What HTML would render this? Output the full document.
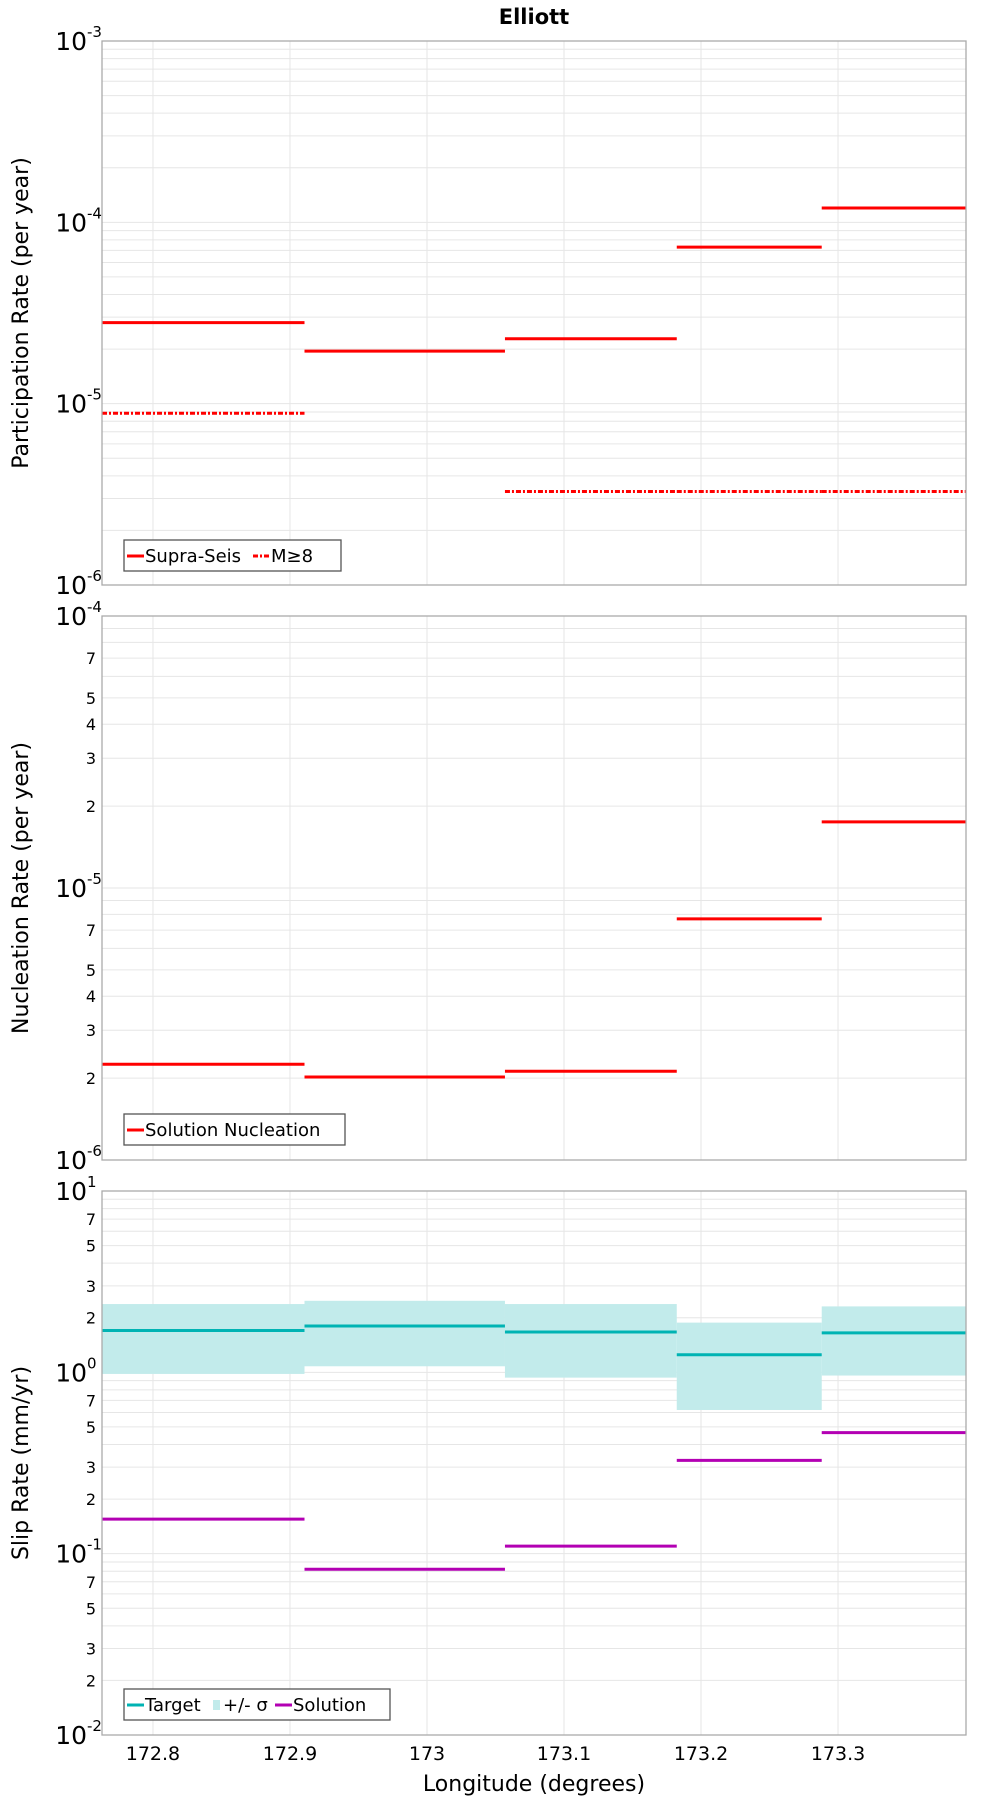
<!DOCTYPE html>
<html><head><meta charset="utf-8"><style>
body{margin:0;background:#fff;}
svg{display:block;font-family:"DejaVu Sans","Liberation Sans",sans-serif;}
</style></head><body>
<svg id="chart" width="1000" height="1800" xmlns="http://www.w3.org/2000/svg">
<text x="534" y="24" text-anchor="middle" font-size="21" font-weight="bold">Elliott</text>
</svg>
<script>
const segLon = [172.70, 172.9106, 173.0569, 173.1823, 173.2881, 173.45];
const partSupra = [2.8e-5, 1.95e-5, 2.28e-5, 7.3e-5, 1.2e-4];
const partM8 = [8.85e-6, null, 3.28e-6, 3.28e-6, 3.28e-6];
const nucl = [2.25e-6, 2.02e-6, 2.12e-6, 7.7e-6, 1.75e-5];
const slipTarget = [1.70, 1.80, 1.67, 1.25, 1.65];
const slipUpper = [2.38, 2.48, 2.38, 1.88, 2.31];
const slipLower = [0.98, 1.08, 0.935, 0.62, 0.96];
const slipSolution = [0.155, 0.082, 0.11, 0.327, 0.465];
const xTicks = [172.8, 172.9, 173.0, 173.1, 173.2, 173.3];
const xTickLabels = ["172.8", "172.9", "173", "173.1", "173.2", "173.3"];

const NS = "http://www.w3.org/2000/svg";
const svg = document.getElementById("chart");
const L = 102, R = 966, XMIN = 172.7628, XMAX = 173.3934;
function xs(v){ return L + (v - XMIN) / (XMAX - XMIN) * (R - L); }
function mk(tag, attrs, parent){ const e = document.createElementNS(NS, tag); for (const k in attrs) e.setAttribute(k, attrs[k]); (parent||svg).appendChild(e); return e; }
function clampX(v){ return Math.max(L, Math.min(R, xs(v))); }

function panel(name, top, bot, dmin, dmax, minorLabels, ylabel){
  const g = mk("g", {});
  
  
  const ys = v => bot - (Math.log10(v) - dmin) / (dmax - dmin) * (bot - top);
  for (let d = dmin; d < dmax; d++) for (let m = 1; m <= 9; m++) {
    const y = ys(m * Math.pow(10, d));
    const ln = mk("line", {x1:L, x2:R, y1:y, y2:y, stroke:"#e6e6e6", "stroke-width":1}, g);
    
    
    if (m > 1 && minorLabels.includes(m)) {
      const t = mk("text", {x:96, y:y+6, "text-anchor":"end", "font-size":16}, g);
      
      
      t.textContent = m;
    }
  }
  xTicks.forEach(v => {
    const ln = mk("line", {x1:xs(v), x2:xs(v), y1:top, y2:bot, stroke:"#e6e6e6", "stroke-width":1}, g);
    
    
  });
  for (let d = dmin; d <= dmax; d++) {
    const y = ys(Math.pow(10, d));
    const t = mk("text", {x:87, y:y+9, "text-anchor":"end", "font-size":25}, g);
    
    
    t.textContent = "10";
    const s = mk("text", {x:87, y:y-4, "font-size":15}, g);
    
    
    s.textContent = d;
  }
  const yl = mk("text", {x:0, y:0, "text-anchor":"middle", "font-size":22, transform:`translate(28,${(top+bot)/2}) rotate(-90)`}, g);
  
  
  yl.textContent = ylabel;
  return {g, ys, top, bot};
}
function frame(p){
  const r = mk("rect", {x:L, y:p.top, width:R-L, height:p.bot-p.top, fill:"none", stroke:"#aaaaaa", "stroke-width":1.3}, p.g);
  
  
}
function steps(p, vals, color, name, dash){
  vals.forEach((v, i) => {
    if (v == null) return;
    const y = p.ys(v);
    const a = {x1:clampX(segLon[i]), x2:clampX(segLon[i+1]), y1:y, y2:y, stroke:color, "stroke-width":3};
    if (dash) a["stroke-dasharray"] = dash;
    const ln = mk("line", a, p.g);
    
    
  });
}
function legend(p, x, y, w, items){
  const g = mk("g", {}, p.g);
  
  
  const r = mk("rect", {x:x, y:y, width:w, height:31, fill:"#fff", stroke:"#555", "stroke-width":1.3}, g);
  
  
  let cx = x + 3;
  items.forEach(it => {
    let sw;
    if (it.box) { sw = mk("rect", {x:cx+2, y:y+11, width:7, height:10, fill:it.color}, g); cx += 12; }
    else { const a = {x1:cx, x2:cx+17, y1:y+16, y2:y+16, stroke:it.color, "stroke-width":3}; if (it.dash) a["stroke-dasharray"] = it.dash; sw = mk("line", a, g); cx += 18; }
    
    
    const t = mk("text", {x:cx, y:y+22, "font-size":18}, g);
    
    
    t.textContent = it.label;
    cx += it.w;
  });
}

const DASH = "5,2,2,2";
const p1 = panel("participation", 41, 585, -6, -3, [], "Participation Rate (per year)");
steps(p1, partSupra, "#ff0000", "supra-seis");
steps(p1, partM8, "#ff0000", "m-ge-8", DASH);
frame(p1);
legend(p1, 124, 540, 217, [{color:"#ff0000", label:"Supra-Seis", w:108},{color:"#ff0000", dash:DASH, label:"M≥8", w:50}]);

const p2 = panel("nucleation", 616, 1160, -6, -4, [2,3,4,5,7], "Nucleation Rate (per year)");
steps(p2, nucl, "#ff0000", "solution-nucleation");
frame(p2);
legend(p2, 124, 1114, 221, [{color:"#ff0000", label:"Solution Nucleation", w:190}]);

const p3 = panel("slip-rate", 1191, 1735, -2, 1, [2,3,5,7], "Slip Rate (mm/yr)");
slipUpper.forEach((u, i) => {
  const y1 = p3.ys(u), y2 = p3.ys(slipLower[i]);
  const r = mk("rect", {x:clampX(segLon[i]), y:y1, width:clampX(segLon[i+1])-clampX(segLon[i]), height:y2-y1, fill:"#c2ebeb"}, p3.g);
  
  
});
steps(p3, slipTarget, "#00b3b3", "target");
steps(p3, slipSolution, "#b300b3", "solution");
frame(p3);
legend(p3, 124, 1689, 266, [{color:"#00b3b3", label:"Target", w:66},{color:"#c2ebeb", box:true, label:"+/- σ", w:52},{color:"#b300b3", label:"Solution", w:90}]);

xTicks.forEach((v, i) => {
  const t = mk("text", {x:xs(v), y:1760, "text-anchor":"middle", "font-size":19});
  
  
  t.textContent = xTickLabels[i];
});
const xt = mk("text", {x:534, y:1791, "text-anchor":"middle", "font-size":22});


xt.textContent = "Longitude (degrees)";
</script>
</body></html>
